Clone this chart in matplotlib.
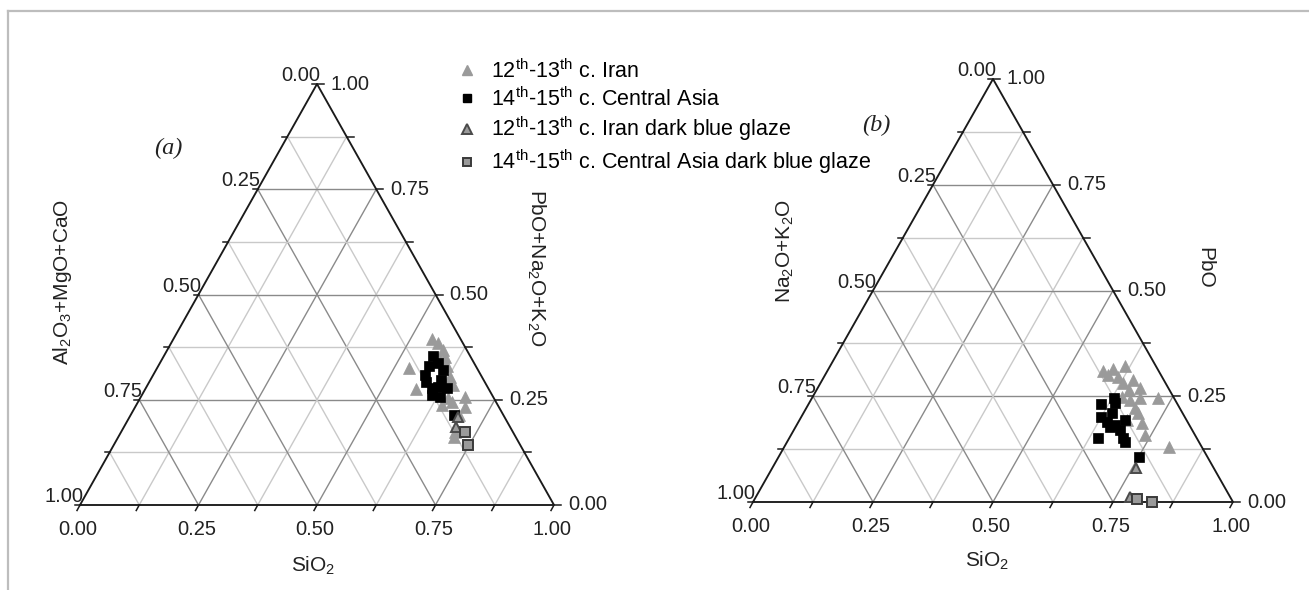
import numpy as np
import matplotlib
matplotlib.use("Agg")
import matplotlib.pyplot as plt
from matplotlib.lines import Line2D

plt.rcParams['font.family'] = ['Liberation Sans', 'DejaVu Sans']
plt.rcParams['mathtext.fontset'] = 'custom'
plt.rcParams['mathtext.rm'] = 'Liberation Sans'
plt.rcParams['mathtext.it'] = 'Liberation Sans:italic'
plt.rcParams['mathtext.bf'] = 'Liberation Sans:bold'
plt.rcParams['mathtext.default'] = 'regular'

# ---------------- data (fractions) ----------------
# panel (a): SiO2 (bottom axis) and PbO+Na2O+K2O (right axis)
a_iran_sio2 = [0.545, 0.564, 0.582, 0.594, 0.532, 0.571, 0.628, 0.645, 0.650, 0.644,
               0.662, 0.684, 0.696, 0.693, 0.704, 0.707, 0.610, 0.587]
a_iran_flux = [0.394, 0.384, 0.368, 0.352, 0.325, 0.275, 0.305, 0.285, 0.253, 0.238,
               0.245, 0.257, 0.233, 0.214, 0.174, 0.162, 0.329, 0.344]
a_ca_sio2 = [0.568, 0.586, 0.605, 0.571, 0.574, 0.584, 0.604, 0.616, 0.636, 0.612,
             0.631, 0.681, 0.613]
a_ca_flux = [0.354, 0.337, 0.321, 0.329, 0.309, 0.293, 0.277, 0.280, 0.277, 0.261,
             0.257, 0.214, 0.297]
a_irandb_sio2 = [0.693, 0.701]
a_irandb_flux = [0.210, 0.185]
a_cadb_sio2 = [0.725, 0.748]
a_cadb_flux = [0.174, 0.143]

# panel (b): SiO2 (bottom axis) and PbO (right axis)
b_iran_sio2 = [0.574, 0.594, 0.614, 0.590, 0.613, 0.631, 0.650, 0.672, 0.684, 0.722,
               0.665, 0.685, 0.698, 0.717, 0.738, 0.802, 0.644, 0.682, 0.648]
b_iran_pbo = [0.310, 0.314, 0.322, 0.300, 0.296, 0.281, 0.265, 0.269, 0.245, 0.245,
              0.241, 0.222, 0.210, 0.186, 0.158, 0.131, 0.249, 0.194, 0.288]
b_ca_sio2 = [0.608, 0.629, 0.638, 0.625, 0.642, 0.642, 0.663, 0.680, 0.678, 0.696,
             0.704, 0.644, 0.752, 0.655]
b_ca_pbo = [0.232, 0.245, 0.233, 0.202, 0.190, 0.210, 0.182, 0.170, 0.194, 0.151,
            0.143, 0.151, 0.106, 0.178]
b_irandb_sio2 = [0.758, 0.779]
b_irandb_pbo = [0.080, 0.013]
b_cadb_sio2 = [0.796, 0.830]
b_cadb_pbo = [0.007, 0.001]

tick_values = [0.0, 0.25, 0.5, 0.75, 1.0]
tick_labels = ['0.00', '0.25', '0.50', '0.75', '1.00']

legend_labels = [r'12$^{th}$-13$^{th}$ c. Iran',
                 r'14$^{th}$-15$^{th}$ c. Central Asia',
                 r'12$^{th}$-13$^{th}$ c. Iran dark blue glaze',
                 r'14$^{th}$-15$^{th}$ c. Central Asia dark blue glaze']

# ---------------- figure ----------------
W, H = 1309, 590
fig = plt.figure(figsize=(W / 100, H / 100), dpi=100)

# light frame
fig.add_artist(Line2D([8 / W, 1.0], [1 - 11 / H, 1 - 11 / H], transform=fig.transFigure,
                      color='#bdbdbd', lw=1.6))
fig.add_artist(Line2D([8 / W, 8 / W], [0, 1 - 11 / H], transform=fig.transFigure,
                      color='#bdbdbd', lw=1.6))

GRAY = '#9a9a9a'
FS = 14.5


def tern(s, p):
    s = np.asarray(s, float)
    p = np.asarray(p, float)
    return s + p / 2.0, p


def make_panel(rect_px, left_title, right_title, title_pos, panel_lab, panel_pos):
    x0, ytop, w, h = rect_px  # bottom-left vertex x, apex y, width, height (pixels)
    ax = fig.add_axes([x0 / W, (H - (ytop + h)) / H, w / W, h / H])
    ax.set_xlim(0, 1)
    ax.set_ylim(0, 1)
    ax.axis('off')
    # grid
    for k in range(1, 8):
        v = k / 8.0
        col = '#8a8a8a' if k % 2 == 0 else '#c9c9c9'
        kw = dict(color=col, lw=1.0, zorder=1, clip_on=False)
        ax.plot([v / 2, 1 - v / 2], [v, v], **kw)
        ax.plot([v, (1 + v) / 2], [0, 1 - v], **kw)
        ax.plot([1 - v, (1 - v) / 2], [0, 1 - v], **kw)
    # outline
    ax.plot([0, 1, 0.5, 0], [0, 0, 1, 0], color='#1a1a1a', lw=1.35, zorder=3,
            clip_on=False, solid_joinstyle='miter')
    # ticks
    tkw = dict(color='#1a1a1a', lw=1.1, zorder=3, clip_on=False)
    for k in range(0, 9):
        v = k / 8.0
        ax.plot([v, v - 3.0 / w], [0, -5.5 / h], **tkw)               # bottom
        ax.plot([1 - v / 2, 1 - v / 2 + 7.0 / w], [v, v], **tkw)      # right
        ax.plot([v / 2, v / 2 - 5.0 / w], [v, v], **tkw)              # left
    # tick labels
    for val, lab in zip(tick_values, tick_labels):
        ax.annotate(lab, xy=(val, 0), xytext=(-2, -15), textcoords='offset pixels',
                    ha='center', va='top', fontsize=FS, color='#222222')
        ax.annotate(lab, xy=(1 - val / 2, val), xytext=(14, 0), textcoords='offset pixels',
                    ha='left', va='center', fontsize=FS, color='#222222')
        # left axis value is 1 - height
        ax.annotate(lab, xy=((1 - val) / 2, 1 - val), xytext=(3, 3), textcoords='offset pixels',
                    ha='right', va='baseline', fontsize=FS, color='#222222')
    (bx, by), (lx, ly), (rx, ry) = title_pos
    ax.text(bx, by, r'SiO$_2$', ha='center', va='center', fontsize=FS + 0.5, color='#222222')
    ax.text(lx, ly, left_title, ha='center', va='center', rotation=90,
            fontsize=FS + 0.5, color='#222222')
    ax.text(rx, ry, right_title, ha='center', va='center', rotation=270,
            fontsize=FS + 0.5, color='#222222')
    ax.text(panel_pos[0], panel_pos[1], panel_lab, ha='center', va='center',
            fontsize=17.5, fontstyle='italic', family='Liberation Serif', color='#222222')
    return ax


def draw_points(ax, s1, p1, s2, p2, s3, p3, s4, p4):
    x, y = tern(s1, p1)
    ax.plot(x, y, ls='none', marker='^', ms=8.5, mfc=GRAY, mec=GRAY, mew=0.5, zorder=4, clip_on=False)
    x, y = tern(s2, p2)
    ax.plot(x, y, ls='none', marker='s', ms=7.3, mfc='black', mec='black', mew=0.5, zorder=5, clip_on=False)
    x, y = tern(s3, p3)
    ax.plot(x, y, ls='none', marker='^', ms=7.8, mfc=GRAY, mec='#4a4a4a', mew=1.4, zorder=6, clip_on=False)
    x, y = tern(s4, p4)
    ax.plot(x, y, ls='none', marker='s', ms=6.8, mfc=GRAY, mec='#3a3a3a', mew=1.4, zorder=7, clip_on=False)


ax_a = make_panel((80, 84, 474, 421),
                  r'Al$_2$O$_3$+MgO+CaO', r'PbO+Na$_2$O+K$_2$O',
                  ((0.492, -0.145), (-0.036, 0.53), (0.962, 0.563)),
                  '(a)', (0.186, 0.846))
draw_points(ax_a, a_iran_sio2, a_iran_flux, a_ca_sio2, a_ca_flux,
            a_irandb_sio2, a_irandb_flux, a_cadb_sio2, a_cadb_flux)

ax_b = make_panel((753, 79, 480, 423),
                  r'Na$_2$O+K$_2$O', 'PbO',
                  ((0.4875, -0.139), (0.0667, 0.593), (0.942, 0.553)),
                  '(b)', (0.256, 0.891))
draw_points(ax_b, b_iran_sio2, b_iran_pbo, b_ca_sio2, b_ca_pbo,
            b_irandb_sio2, b_irandb_pbo, b_cadb_sio2, b_cadb_pbo)

handles = [
    Line2D([], [], ls='none', marker='^', ms=6.5, mfc=GRAY, mec=GRAY),
    Line2D([], [], ls='none', marker='s', ms=6, mfc='black', mec='black'),
    Line2D([], [], ls='none', marker='^', ms=6.5, mfc=GRAY, mec='#4a4a4a', mew=1.4),
    Line2D([], [], ls='none', marker='s', ms=5.5, mfc=GRAY, mec='#3a3a3a', mew=1.4),
]
fig.legend(handles, legend_labels, loc='upper left',
           bbox_to_anchor=(457 / W, 1 - 59 / H), frameon=False, fontsize=15.5,
           handlelength=0.9, handletextpad=0.7, labelspacing=0.2, borderpad=0,
           borderaxespad=0)

fig.savefig('out.png', dpi=100)
